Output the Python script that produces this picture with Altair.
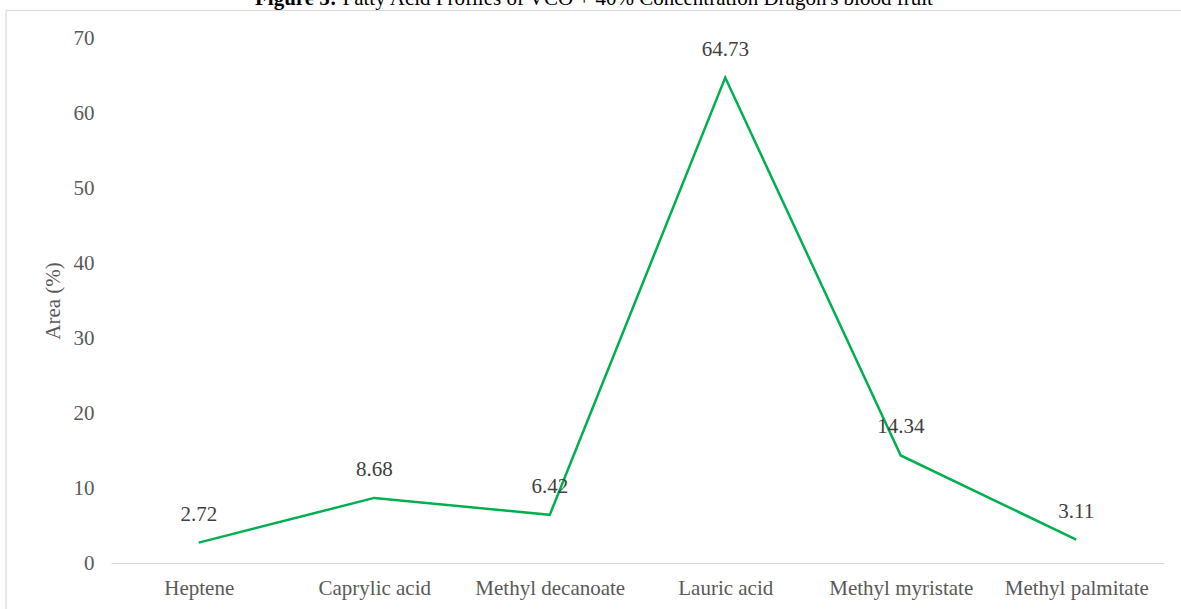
import altair as alt
import pandas as pd

# Fatty acid composition (area %) of VCO + 40% dragon's blood fruit
compounds = ["Heptene", "Caprylic acid", "Methyl decanoate", "Lauric acid",
             "Methyl myristate", "Methyl palmitate"]
area_pct = [2.72, 8.68, 6.42, 64.73, 14.34, 3.11]
y_ticks = [0, 10, 20, 30, 40, 50, 60, 70]

title_bold = "Figure 5:"
title_rest = "Fatty Acid Profiles of VCO + 40% Concentration Dragon's blood fruit"

FONT = "Liberation Serif"
FS = 21
GREEN = "#00B050"
GREY_TXT = "#595959"
FRAME = "#D9D9D9"

df = pd.DataFrame({"compound": compounds, "area": area_pct})

x_enc = alt.X("compound:N", sort=compounds,
              scale=alt.Scale(type="point", padding=0.5),
              axis=alt.Axis(title=None, labelAngle=0))
y_enc = alt.Y("area:Q", scale=alt.Scale(domain=[0, 70], nice=False),
              axis=alt.Axis(title="Area (%)", values=y_ticks))

base = alt.Chart(df)

line = base.mark_line(color=GREEN, strokeWidth=2.5).encode(x=x_enc, y=y_enc)

labels = base.mark_text(font=FONT, fontSize=FS, color="#404040",
                        baseline="alphabetic", dy=-22).encode(
    x=x_enc, y=y_enc, text=alt.Text("area:Q", format=".2f"))

one = alt.Chart(pd.DataFrame({"k": [0]}))

# outer chart frame (top and left edges)
frame_top = one.mark_rule(color=FRAME, strokeWidth=1.2).encode(
    x=alt.value(-105), x2=alt.value(1080), y=alt.value(-27.5))
frame_left = one.mark_rule(color=FRAME, strokeWidth=1.2).encode(
    x=alt.value(-105), y=alt.value(-27.5), y2=alt.value(580))

# caption, bold label followed by regular text
cap_bold = alt.Chart(pd.DataFrame({"t": [title_bold]})).mark_text(
    font=FONT, fontSize=FS, fontWeight="bold", color="#000000",
    align="left", baseline="alphabetic").encode(
    x=alt.value(144), y=alt.value(-33), text="t:N")
cap_rest = alt.Chart(pd.DataFrame({"t": [title_rest]})).mark_text(
    font=FONT, fontSize=FS, color="#000000",
    align="left", baseline="alphabetic").encode(
    x=alt.value(231.5), y=alt.value(-33), text="t:N")

chart = alt.layer(frame_top, frame_left, cap_bold, cap_rest, line, labels).properties(
    width=1053, height=525,
    autosize=alt.AutoSizeParams(type="none"),
    padding={"left": 111, "top": 38, "right": 17, "bottom": 46},
    background="white",
).configure_view(stroke=None).configure_axisX(
    domainColor=FRAME, domainWidth=1.2, ticks=False, grid=False,
    labelFont=FONT, labelFontSize=FS, labelColor=GREY_TXT, labelPadding=14,
).configure_axisY(
    domain=False, ticks=False, grid=False,
    labelFont=FONT, labelFontSize=FS, labelColor=GREY_TXT, labelPadding=17,
    titleFont=FONT, titleFontSize=FS, titleFontWeight="normal",
    titleColor=GREY_TXT, titlePadding=10,
)

chart.save("out.html", embed_options={"renderer": "svg", "actions": False})
